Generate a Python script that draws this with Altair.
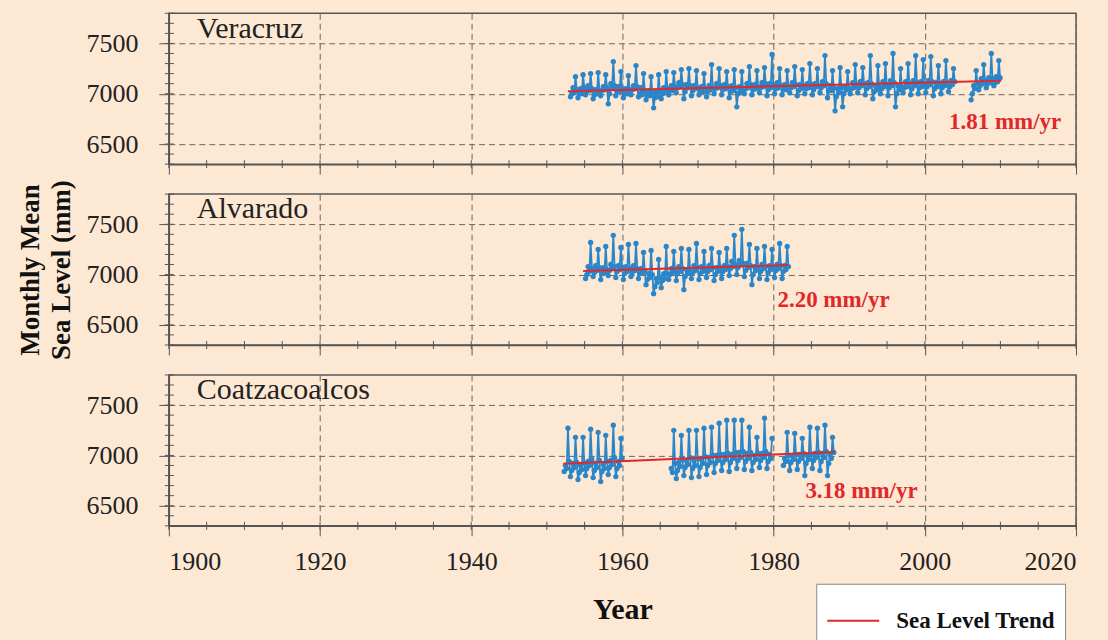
import altair as alt
import pandas as pd

FONT = "Liberation Serif"
BG = "#FDE8D3"
BLUE = "#2A86C8"
RED = "#E0282A"
AXIS_GRAY = "#555555"

# sample months inside each year (Feb, Apr, Jun, Aug, Oct, Dec)
MONTHS = [2, 4, 6, 8, 10, 12]

stations = ["Veracruz", "Alvarado", "Coatzacoalcos"]
rates = ["1.81 mm/yr", "2.20 mm/yr", "3.18 mm/yr"]
first_years = [1953, 1955, 1952]

veracruz = [
    [6970, 7000, 7060, 7010, 7170, 7040],  # 1953
    [6960, 7010, 7050, 7000, 7190, 7060],
    [6990, 7020, 7080, 7030, 7200, 7050],
    [6950, 6990, 7040, 7000, 7210, 7030],
    [6980, 7030, 7070, 7040, 7190, 7060],
    [6900, 7000, 7100, 7060, 7320, 7080],
    [6980, 7030, 7070, 7020, 7220, 7050],
    [6960, 7010, 7050, 7000, 7180, 7040],  # 1960
    [6990, 7040, 7080, 7050, 7280, 7070],
    [6970, 7000, 7060, 6990, 7200, 7030],
    [6940, 6990, 7030, 6980, 7170, 7010],
    [6860, 6960, 7020, 6970, 7190, 7020],
    [6950, 7000, 7060, 7010, 7220, 7050],
    [6990, 7040, 7080, 7030, 7210, 7070],
    [7010, 7060, 7110, 7070, 7240, 7090],
    [6950, 7020, 7090, 7060, 7250, 7080],
    [6980, 7030, 7080, 7050, 7230, 7060],
    [6990, 7030, 7070, 7020, 7200, 7050],  # 1970
    [6970, 7020, 7080, 7040, 7290, 7060],
    [7000, 7050, 7100, 7060, 7250, 7080],
    [6990, 7040, 7090, 7050, 7220, 7070],
    [6960, 7020, 7080, 7030, 7240, 7060],
    [6870, 7000, 7070, 7020, 7220, 7050],
    [7000, 7050, 7100, 7060, 7270, 7090],
    [6990, 7040, 7090, 7050, 7230, 7070],
    [7010, 7060, 7110, 7070, 7260, 7100],
    [6980, 7040, 7100, 7060, 7390, 7090],
    [7000, 7050, 7110, 7060, 7250, 7080],  # 1980
    [6990, 7040, 7090, 7040, 7230, 7070],
    [7010, 7060, 7110, 7070, 7270, 7090],
    [6980, 7030, 7090, 7050, 7240, 7080],
    [7000, 7050, 7100, 7060, 7300, 7090],
    [6990, 7040, 7100, 7070, 7250, 7080],
    [7010, 7060, 7120, 7080, 7380, 7100],
    [6960, 7030, 7080, 7030, 7230, 7060],
    [6830, 6970, 7050, 7010, 7260, 7060],
    [6870, 7000, 7070, 7040, 7220, 7050],
    [7000, 7050, 7110, 7060, 7290, 7090],  # 1990
    [7010, 7060, 7120, 7080, 7260, 7100],
    [6990, 7050, 7110, 7070, 7380, 7100],
    [6950, 7020, 7080, 7040, 7280, 7070],
    [7000, 7050, 7120, 7070, 7300, 7090],
    [6980, 7060, 7130, 7080, 7400, 7110],
    [6870, 7000, 7080, 7040, 7250, 7070],
    [7010, 7060, 7120, 7070, 7300, 7100],
    [6990, 7050, 7130, 7080, 7380, 7110],
    [7000, 7060, 7120, 7070, 7340, 7100],
    [7010, 7070, 7130, 7090, 7370, 7120],  # 2000
    [6980, 7050, 7110, 7070, 7280, 7100],
    [7000, 7060, 7120, 7080, 7330, 7110],
    [7020, 7070, 7130, 7090, 7250, 7120],
    None,  # 2004
    None,  # 2005
    [6940, 7000, 7080, 7050, 7230, 7100],
    [7040, 7080, 7150, 7100, 7290, 7130],
    [7060, 7100, 7160, 7110, 7400, 7150],
    [7080, 7110, 7170, 7120, 7330, 7160],  # 2009
]

alvarado = [
    [6960, 7000, 7080, 7030, 7320, 7060],  # 1955
    [6980, 7020, 7090, 7040, 7250, 7070],
    [6950, 7010, 7070, 7020, 7280, 7050],
    [6990, 7040, 7100, 7060, 7390, 7080],
    [6970, 7030, 7090, 7050, 7270, 7070],
    [6950, 7010, 7080, 7030, 7300, 7060],  # 1960
    [6980, 7020, 7090, 7040, 7310, 7060],
    [6960, 7010, 7060, 7020, 7220, 7040],
    [6900, 6950, 7010, 6970, 7240, 7000],
    [6810, 6880, 6960, 6920, 7150, 6970],
    [6870, 6940, 7010, 6960, 7280, 7010],
    [6950, 7000, 7060, 7020, 7230, 7040],
    [6940, 7010, 7080, 7030, 7260, 7060],
    [6850, 6980, 7050, 7010, 7250, 7040],
    [6960, 7020, 7090, 7040, 7310, 7070],
    [6950, 7010, 7080, 7030, 7230, 7060],  # 1970
    [6970, 7030, 7090, 7050, 7260, 7070],
    [6940, 7000, 7070, 7030, 7220, 7050],
    [6960, 7030, 7090, 7050, 7260, 7080],
    [6990, 7060, 7130, 7080, 7390, 7100],
    [7000, 7070, 7140, 7100, 7450, 7110],
    [6980, 7040, 7110, 7070, 7300, 7090],
    [6900, 7000, 7080, 7040, 7260, 7070],
    [6960, 7030, 7100, 7060, 7280, 7080],
    [6950, 7020, 7090, 7050, 7250, 7070],
    [6970, 7040, 7100, 7060, 7310, 7090],  # 1980
    [6960, 7030, 7090, 7050, 7280, 7080],
]

coatzacoalcos = [
    [None, 6840, 6900, 6870, 7270, 6940],  # 1952
    [6790, 6850, 6920, 6880, 7180, 6930],
    [6760, 6830, 6900, 6860, 7180, 6920],
    [6800, 6870, 6940, 6900, 7260, 6960],
    [6780, 6850, 6920, 6880, 7230, 6950],
    [6740, 6840, 6910, 6870, 7200, 6940],
    [6810, 6880, 6950, 6910, 7300, 6980],
    [6790, 6870, 6940, 6900, 7170, 6970],
    None,  # 1960
    None,
    None,
    None,
    None,
    None,
    [None, None, 6870, 6830, 7250, 6920],  # 1966
    [6770, 6850, 6930, 6890, 7200, 6960],
    [6800, 6880, 6950, 6910, 7250, 6980],
    [6780, 6870, 6950, 6900, 7250, 6970],
    [6790, 6880, 6960, 6920, 7270, 6990],  # 1970
    [6810, 6900, 6980, 6930, 7280, 7000],
    [6830, 6920, 7000, 6950, 7320, 7010],
    [6850, 6930, 7010, 6960, 7350, 7020],
    [6840, 6930, 7010, 6970, 7350, 7030],
    [6870, 6950, 7030, 6980, 7350, 7040],
    [6860, 6940, 7020, 6970, 7280, 7030],
    [6850, 6930, 7000, 6960, 7180, 7020],
    [6880, 6950, 7020, 6980, 7370, 7040],
    [6870, 6940, 7010, 6970, 7170, None],
    None,  # 1980
    [None, 6900, 6970, 6940, 7230, 7000],
    [6850, 6930, 7000, 6960, 7220, 7010],
    [6860, 6940, 7010, 6970, 7170, 7020],
    [6800, 6920, 7000, 6960, 7280, 7010],
    [6870, 6950, 7020, 6980, 7270, 7030],
    [6850, 6940, 7020, 6980, 7300, 7040],
    [6800, 6920, 7010, 6970, 7180, 7030],  # 1987
]

series_rows = [veracruz, alvarado, coatzacoalcos]

trend_years = [[1952.8, 2010.1], [1954.8, 1981.9], [1952.2, 1988.0]]
trend_values = [[7025, 7130], [7035, 7094], [6918, 7035]]

rate_label_years = [2003.2, 1980.5, 1984.2]
rate_label_values = [6720, 6750, 6650]
name_label_year = 1903.7
name_label_values = [7640, 7650, 7650]

x_major = [1900, 1920, 1940, 1960, 1980, 2000, 2020]
x_minor = [1900, 1905, 1910, 1915, 1920, 1925, 1930, 1935, 1940, 1945, 1950,
           1955, 1960, 1965, 1970, 1975, 1980, 1985, 1990, 1995, 2000, 2005,
           2010, 2015, 2020]
y_major = [6500, 7000, 7500]
y_minor = [6300, 6400, 6500, 6600, 6700, 6800, 6900, 7000, 7100, 7200, 7300,
           7400, 7500, 7600, 7700, 7800]


def series_frame(name, first_year, rows):
    recs = []
    seg = 0
    gap = False
    for i, row in enumerate(rows):
        year = first_year + i
        vals = row if row is not None else [None] * len(MONTHS)
        for m, v in zip(MONTHS, vals):
            if v is None:
                gap = True
                continue
            if gap and recs:
                seg += 1
            gap = False
            recs.append({"t": year + (m - 0.5) / 12.0, "value": v,
                         "seg": f"{name}-{seg}"})
    return pd.DataFrame(recs)


W, H = 908, 151
xscale = alt.Scale(domain=[1900, 2020], nice=False, zero=False)
yscale = alt.Scale(domain=[6300, 7800], nice=False, zero=False)

legend_def = alt.Legend(
    title=None, orient="none", legendX=648, legendY=571,
    fillColor="white", strokeColor="#888888", padding=10,
    symbolType="stroke", symbolSize=2704, symbolStrokeWidth=2,
    labelFont=FONT, labelFontSize=23, labelFontWeight="bold",
    labelColor="#111111", labelOffset=16,
)


def panel(i):
    bottom = i == 2
    d = series_frame(stations[i], first_years[i], series_rows[i])
    x_axis = alt.Axis(values=x_major, grid=True, labels=bottom, tickSize=10,
                      format="d", labelPadding=13,
                      title="Year" if bottom else "", titleFontSize=30,
                      titlePadding=20 if bottom else 0)
    y_axis = alt.Axis(values=y_major, grid=True, tickSize=10, labelPadding=21,
                      format="d",
                      title=["Monthly Mean", "Sea Level (mm)"] if i == 1 else "",
                      titleFontSize=27, titleLineHeight=31, titlePadding=10)

    def X(field):
        return alt.X(field, scale=xscale, axis=x_axis)

    def Y(field):
        return alt.Y(field, scale=yscale, axis=y_axis)

    line = alt.Chart(d).mark_line(color=BLUE, strokeWidth=1.8).encode(
        x=X("t:Q"), y=Y("value:Q"), detail="seg:N")
    pts = alt.Chart(d).mark_circle(color=BLUE, size=28, opacity=1).encode(
        x=X("t:Q"), y=Y("value:Q"))

    yminor = alt.Chart(pd.DataFrame({"value": y_minor})).mark_rule(
        color=AXIS_GRAY, strokeWidth=1).encode(
        y=Y("value:Q"), x=alt.value(-4), x2=alt.value(5))
    xminor = alt.Chart(pd.DataFrame({"t": x_minor})).mark_rule(
        color=AXIS_GRAY, strokeWidth=1).encode(
        x=X("t:Q"), y=alt.value(H - 4), y2=alt.value(H + 4))

    tr = pd.DataFrame({"t": trend_years[i], "value": trend_values[i],
                       "key": ["Sea Level Trend", "Sea Level Trend"]})
    trend = alt.Chart(tr).mark_line(strokeWidth=2).encode(
        x=X("t:Q"), y=Y("value:Q"),
        color=alt.Color("key:N", scale=alt.Scale(domain=["Sea Level Trend"],
                                                  range=[RED]),
                        legend=legend_def))

    name_df = pd.DataFrame({"t": [name_label_year],
                            "value": [name_label_values[i]],
                            "label": [stations[i]]})
    name = alt.Chart(name_df).mark_text(
        align="left", baseline="middle", font=FONT, fontSize=30,
        color="#222222").encode(x=X("t:Q"), y=Y("value:Q"), text="label:N")

    rate_df = pd.DataFrame({"t": [rate_label_years[i]],
                            "value": [rate_label_values[i]],
                            "label": [rates[i]]})
    rate = alt.Chart(rate_df).mark_text(
        align="left", baseline="middle", font=FONT, fontSize=23,
        fontWeight="bold", color=RED).encode(
        x=X("t:Q"), y=Y("value:Q"), text="label:N")

    return alt.layer(line, pts, yminor, xminor, trend, name, rate).properties(
        width=W, height=H)


chart = alt.vconcat(panel(0), panel(1), panel(2), spacing=30,
                    bounds="flush").properties(
    background=BG,
    padding={"left": 16, "top": 11, "right": 30, "bottom": 0},
).configure_view(
    stroke=AXIS_GRAY, strokeWidth=1.5
).configure_axis(
    labelFont=FONT, labelFontSize=26, labelColor="#222222",
    titleFont=FONT, titleFontWeight="bold", titleColor="#111111",
    domainColor=AXIS_GRAY, domainWidth=1.5, tickColor=AXIS_GRAY, tickWidth=1,
    gridColor="#666666", gridDash=[6, 4], gridWidth=1, gridOpacity=1,
)

chart.save("out.html", embed_options={"renderer": "svg", "actions": False})
